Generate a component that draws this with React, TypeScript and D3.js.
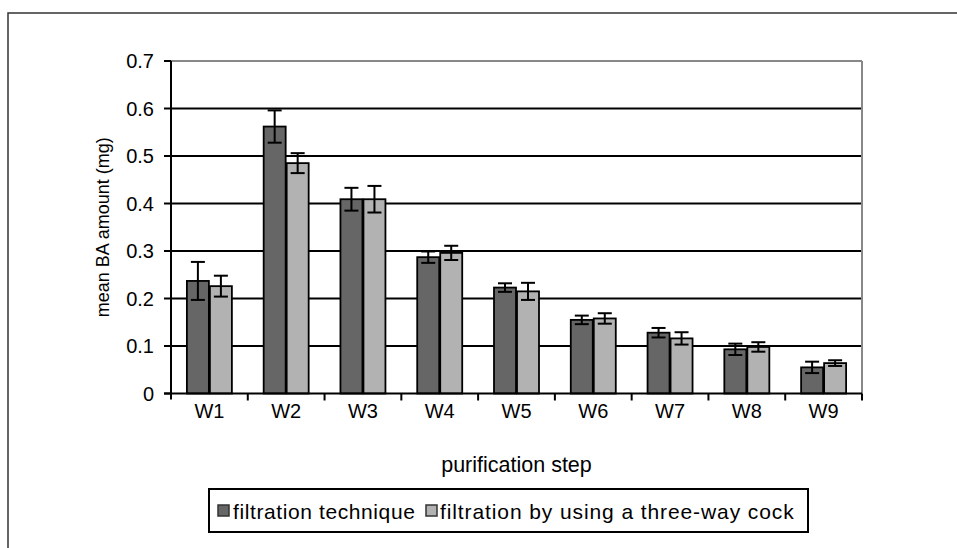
import React from "react";
import * as d3 from "d3";

const categories = ["W1", "W2", "W3", "W4", "W5", "W6", "W7", "W8", "W9"];
const seriesNames = ["filtration technique", "filtration by using a three-way cock"];
const filtrationValues = [0.237, 0.562, 0.409, 0.287, 0.223, 0.155, 0.128, 0.093, 0.055];
const filtrationErrors = [0.04, 0.034, 0.024, 0.012, 0.009, 0.009, 0.01, 0.012, 0.012];
const cockValues = [0.226, 0.485, 0.409, 0.296, 0.215, 0.158, 0.116, 0.098, 0.064];
const cockErrors = [0.022, 0.021, 0.028, 0.015, 0.018, 0.011, 0.013, 0.01, 0.006];
const yTicks = [0, 0.1, 0.2, 0.3, 0.4, 0.5, 0.6, 0.7];
const colors = ["#666666", "#b2b2b2"];

const W = 957;
const H = 548;
const plot = { left: 171, right: 862, top: 61, bottom: 393.5 };
const FONT = "'Liberation Sans', Arial, sans-serif";

export default function App() {
  const x = d3.scaleBand<string>().domain(categories).range([plot.left, plot.right]).padding(0);
  const y = d3.scaleLinear().domain([0, 0.7]).range([plot.bottom, plot.top]);
  const barW = 23;
  const inner = d3
    .scaleBand<number>()
    .domain([0, 1])
    .range([-barW, barW])
    .padding(0);
  const series = [
    { values: filtrationValues, errors: filtrationErrors },
    { values: cockValues, errors: cockErrors },
  ];
  const capHalf = 7;
  return (
    <svg width={W} height={H} style={{ position: "absolute", left: 0, top: 0 }}>
      <rect x={0} y={0} width={W} height={H} fill="#ffffff" />
      <rect x={8} y={13} width={W + 20} height={H + 20} fill="none" stroke="#333" strokeWidth={1.5} />
      {/* gridlines */}
      {yTicks.slice(1, -1).map((t) => (
        <line key={t} x1={plot.left} x2={plot.right} y1={y(t)} y2={y(t)} stroke="#000" strokeWidth={2} />
      ))}
      {/* plot frame top/right */}
      <line x1={plot.left} x2={plot.right} y1={plot.top} y2={plot.top} stroke="#888" strokeWidth={2} />
      <line x1={plot.right} x2={plot.right} y1={plot.top} y2={plot.bottom} stroke="#888" strokeWidth={2} />
      {/* bars */}
      {series.map((s, si) =>
        categories.map((c, ci) => {
          const cx = (x(c) as number) + x.bandwidth() / 2;
          const bx = cx + (inner(si) as number);
          const v = s.values[ci];
          const e = s.errors[ci];
          const mid = bx + inner.bandwidth() / 2;
          return (
            <g key={`${si}-${ci}`}>
              <rect
                x={bx + 0.5}
                y={y(v)}
                width={inner.bandwidth() - 1}
                height={plot.bottom - y(v)}
                fill={colors[si]}
                stroke="#000"
                strokeWidth={1.8}
              />
              <line x1={mid} x2={mid} y1={y(v + e)} y2={y(v - e)} stroke="#000" strokeWidth={2} />
              <line x1={mid - capHalf} x2={mid + capHalf} y1={y(v + e)} y2={y(v + e)} stroke="#000" strokeWidth={2} />
              <line x1={mid - capHalf} x2={mid + capHalf} y1={y(v - e)} y2={y(v - e)} stroke="#000" strokeWidth={2} />
            </g>
          );
        })
      )}
      {/* axes */}
      <line x1={plot.left} x2={plot.left} y1={plot.top} y2={plot.bottom + 6} stroke="#000" strokeWidth={2} />
      <line x1={plot.left - 7} x2={plot.right} y1={plot.bottom} y2={plot.bottom} stroke="#000" strokeWidth={2} />
      {yTicks.map((t) => (
        <g key={t}>
          <line x1={plot.left - 7} x2={plot.left} y1={y(t)} y2={y(t)} stroke="#000" strokeWidth={2} />
          <text
            x={plot.left - 17}
            y={y(t)}
            textAnchor="end"
            dominantBaseline="central"
            fontFamily={FONT}
            fontSize={20}
            fill="#000"
          >
            {t === 0 ? "0" : t.toFixed(1)}
          </text>
        </g>
      ))}
      {categories.map((c, i) => (
        <g key={c}>
          {i > 0 && (
            <line
              x1={x(c) as number}
              x2={x(c) as number}
              y1={plot.bottom}
              y2={plot.bottom + 7}
              stroke="#000"
              strokeWidth={2}
            />
          )}
          <text
            x={(x(c) as number) + x.bandwidth() / 2}
            y={411}
            textAnchor="middle"
            dominantBaseline="central"
            fontFamily={FONT}
            fontSize={20}
            fill="#000"
          >
            {c}
          </text>
        </g>
      ))}
      <line x1={plot.right} x2={plot.right} y1={plot.bottom} y2={plot.bottom + 7} stroke="#000" strokeWidth={2} />
      <text
        x={(plot.left + plot.right) / 2}
        y={465}
        textAnchor="middle"
        dominantBaseline="central"
        fontFamily={FONT}
        fontSize={21.5}
        fill="#000"
      >
        purification step
      </text>
      <text
        transform={`translate(103, ${(plot.top + plot.bottom) / 2}) rotate(-90)`}
        textAnchor="middle"
        dominantBaseline="central"
        fontFamily={FONT}
        fontSize={18}
        fill="#000"
      >
        mean BA amount (mg)
      </text>
      {/* legend */}
      <rect x={209} y={489} width={599} height={43} fill="#fff" stroke="#000" strokeWidth={2} />
      <rect x={218} y={505} width={11} height={11} fill={colors[0]} stroke="#333" strokeWidth={1.5} />
      <text x={233} y={511} dominantBaseline="central" fontFamily={FONT} fontSize={21} letterSpacing={0.6} fill="#000">
        {seriesNames[0]}
      </text>
      <rect x={426} y={505} width={11} height={11} fill={colors[1]} stroke="#333" strokeWidth={1.5} />
      <text x={440} y={511} dominantBaseline="central" fontFamily={FONT} fontSize={21} letterSpacing={0.9} fill="#000">
        {seriesNames[1]}
      </text>
    </svg>
  );
}
